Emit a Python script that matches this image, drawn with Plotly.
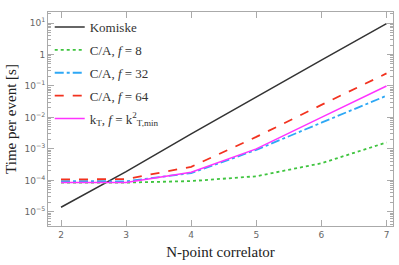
import plotly.graph_objects as go

n_points = [2, 3, 4, 5, 6, 7]
komiske = [1.4e-5, 1.9e-4, 3.0e-3, 4.5e-2, 0.66, 9.5]
ca_f8 = [8.5e-5, 8.5e-5, 9.5e-5, 1.35e-4, 3.5e-4, 1.6e-3]
ca_f32 = [9.5e-5, 9.3e-5, 1.7e-4, 9.3e-4, 6.8e-3, 4.9e-2]
ca_f64 = [1.07e-4, 1.1e-4, 2.7e-4, 2.4e-3, 2.5e-2, 0.25]
kt_fmin = [8.5e-5, 8.6e-5, 1.8e-4, 1.0e-3, 1.0e-2, 0.1]

names = ["Komiske", "C/A, <i>f</i> = 8", "C/A, <i>f</i> = 32", "C/A, <i>f</i> = 64",
         "k<sub>T</sub>, <i>f</i> = k<sup>2</sup><sub>T,min</sub>"]
series = [komiske, ca_f8, ca_f32, ca_f64, kt_fmin]
colors = ["#333333", "#3fc43f", "#2ea8f5", "#f2321f", "#ff33ff"]
dashes = ["solid", "dot", "dashdot", "dash", "solid"]
widths = [1.5, 1.8, 1.8, 1.8, 1.5]

y_tickvals = [1e-5, 1e-4, 1e-3, 1e-2, 1e-1, 1, 10]
y_ticktext = ["10<sup>−5</sup>", "10<sup>−4</sup>", "10<sup>−3</sup>", "10<sup>−2</sup>",
              "10<sup>−1</sup>", "1", "10<sup>1</sup>"]
x_tickvals = [2, 3, 4, 5, 6, 7]

fig = go.Figure()
for i, (nm, ys) in enumerate(zip(names, series)):
    fig.add_trace(go.Scatter(x=n_points, y=ys, mode="lines", name=nm, legendgroup=str(i),
                             line=dict(color=colors[i], dash=dashes[i], width=widths[i])))

minor_vals = [m * 10 ** k for k in range(-6, 2) for m in range(2, 10)]

axis_common = dict(showline=True, linecolor="#aaaaaa", linewidth=1, mirror="ticks",
                   ticks="inside", tickcolor="#aaaaaa", showgrid=False, zeroline=False,
                   automargin=False,
                   tickfont=dict(family="DejaVu Sans", size=9, color="#666666"))

fig.update_layout(
    width=399, height=265,
    margin=dict(l=48, r=6, t=12, b=39),
    paper_bgcolor="white", plot_bgcolor="white",
    showlegend=True,
    legend=dict(x=0.005, y=1.0, xanchor="left", yanchor="top", bgcolor="rgba(0,0,0,0)",
                font=dict(family="Liberation Serif", size=13, color="#333333"),
                tracegroupgap=3),
    xaxis=dict(range=[1.8, 7.1], tickvals=x_tickvals, ticklen=6,
               title=dict(text="N-point correlator", font=dict(family="Liberation Serif", size=15, color="#222222"), standoff=7),
               **axis_common),
    yaxis=dict(type="log", range=[-5.45, 1.35], tickvals=y_tickvals, ticktext=y_ticktext, ticklen=6,
               minor=dict(tickvals=minor_vals, ticks="inside", ticklen=3, tickcolor="#aaaaaa", showgrid=False),
               title=dict(text="Time per event [s]", font=dict(family="Liberation Serif", size=15, color="#222222"), standoff=4),
               **axis_common),
)

fig.write_html("out.html", config={"displayModeBar": False},
               post_script="document.body.style.margin='0';document.body.style.padding='0';")
